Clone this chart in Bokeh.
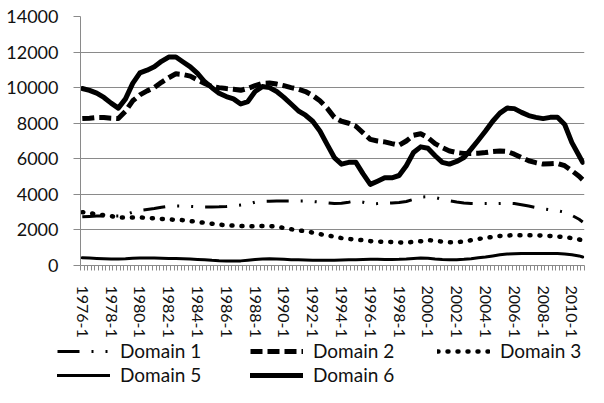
from bokeh.plotting import figure
from bokeh.models import Range1d, FixedTicker, Legend, LegendItem
from bokeh.embed import file_html
from bokeh.resources import INLINE

# ---- categories ----
years = list(range(1976, 2011))
quarters = [f"{y}-{q}" for y in years for q in (1, 2, 3, 4)]
x_labels = ["1976-1", "1978-1", "1980-1", "1982-1", "1984-1", "1986-1", "1988-1",
            "1990-1", "1992-1", "1994-1", "1996-1", "1998-1", "2000-1", "2002-1",
            "2004-1", "2006-1", "2008-1", "2010-1"]
# values read at the 1st and 3rd quarter of every year, plus the last quarter
sample_x = [f"{y}-{q}" for y in years for q in (1, 3)] + ["2010-4"]
y_ticks = [0, 2000, 4000, 6000, 8000, 10000, 12000, 14000]

names = ["Domain 1", "Domain 2", "Domain 3", "Domain 5", "Domain 6"]

d1 = [2740, 2760, 2780, 2790, 2780, 2780, 2850, 3000, 3100, 3150, 3200, 3270,
      3330, 3350, 3350, 3320, 3300, 3290, 3290, 3300, 3320, 3350, 3400, 3450,
      3560, 3600, 3610, 3620, 3620, 3620, 3620, 3620, 3600, 3560, 3520, 3480,
      3500, 3560, 3630, 3560, 3460, 3480, 3510, 3520, 3540, 3600, 3720, 3850,
      3870, 3820, 3720, 3640, 3570, 3520, 3490, 3480, 3480, 3480, 3490, 3500,
      3480, 3420, 3340, 3260, 3190, 3130, 3080, 3000, 2820, 2600, 2450]
d2 = [8260, 8280, 8320, 8320, 8280, 8260, 8670, 9260, 9590, 9820, 10000, 10300,
      10560, 10780, 10740, 10650, 10430, 10240, 10060, 10000, 9950, 9910, 9850, 9960,
      10110, 10240, 10260, 10200, 10110, 10000, 9910, 9780, 9560, 9260, 8850, 8330,
      8110, 8000, 7830, 7460, 7090, 7000, 6950, 6850, 6760, 7000, 7320, 7410,
      7190, 6850, 6630, 6440, 6350, 6300, 6300, 6310, 6350, 6410, 6440, 6410,
      6260, 6070, 5890, 5780, 5700, 5720, 5740, 5610, 5330, 5020, 4820]
d3 = [3000, 2950, 2880, 2830, 2780, 2700, 2700, 2700, 2700, 2680, 2650, 2620,
      2590, 2570, 2550, 2500, 2450, 2400, 2350, 2300, 2260, 2240, 2220, 2200,
      2200, 2220, 2220, 2180, 2110, 2040, 1980, 1920, 1850, 1760, 1700, 1620,
      1540, 1490, 1460, 1420, 1370, 1340, 1330, 1320, 1300, 1290, 1330, 1360,
      1430, 1390, 1340, 1310, 1310, 1350, 1420, 1490, 1550, 1610, 1660, 1690,
      1700, 1700, 1700, 1700, 1680, 1660, 1630, 1600, 1540, 1460, 1420]
d5 = [430, 420, 400, 380, 360, 360, 380, 410, 420, 420, 420, 410,
      400, 390, 380, 360, 340, 320, 290, 270, 260, 260, 260, 300,
      340, 370, 380, 370, 350, 330, 320, 310, 300, 300, 300, 300,
      310, 320, 330, 340, 350, 350, 340, 340, 350, 370, 400, 420,
      410, 370, 340, 330, 330, 350, 380, 430, 480, 540, 600, 640,
      660, 670, 670, 670, 670, 670, 670, 650, 600, 540, 480]
d6 = [9950, 9850, 9690, 9450, 9130, 8850, 9370, 10240, 10830, 10980, 11170, 11480,
      11720, 11720, 11440, 11170, 10800, 10330, 10000, 9690, 9500, 9370, 9080, 9220,
      9780, 10060, 10000, 9780, 9450, 9080, 8700, 8450, 8110, 7560, 6810, 6070,
      5700, 5800, 5800, 5150, 4560, 4740, 4930, 4930, 5060, 5610, 6350, 6670,
      6590, 6170, 5800, 5700, 5850, 6070, 6540, 7040, 7560, 8110, 8570, 8850,
      8820, 8610, 8430, 8330, 8260, 8330, 8330, 7930, 6910, 6170, 5800]
series = [d1, d2, d3, d5, d6]

FONT = "Lato"
GRID = "#8a8a8a"
styles = [dict(line_width=3, line_dash="22 12 2 12 2 12", line_join="round"),
          dict(line_width=5, line_dash="12 5", line_join="round"),
          dict(line_width=4.5, line_dash="1 9", line_cap="round", line_join="round"),
          dict(line_width=3, line_join="round", line_cap="round"),
          dict(line_width=5, line_join="round", line_cap="round")]

# category positions on the axis (category i is centred on i)
xi = [quarters.index(q) for q in sample_x]
label_pos = [quarters.index(l) for l in x_labels]

p = figure(width=588, height=340, output_backend="svg",
           toolbar_location=None,
           x_range=Range1d(-0.5, len(quarters) - 0.5),
           y_range=Range1d(0, 14000),
           min_border_left=80, min_border_right=4, min_border_top=16,
           min_border_bottom=72)
p.outline_line_color = None
p.background_fill_color = "white"
p.border_fill_color = "white"

# y axis
p.yaxis.ticker = FixedTicker(ticks=y_ticks)
p.yaxis.minor_tick_line_color = None
p.yaxis.major_tick_out = 7
p.yaxis.major_tick_in = 0
p.yaxis.major_tick_line_color = GRID
p.yaxis.axis_line_color = GRID
p.yaxis.major_label_standoff = 15
p.yaxis.major_label_text_font = FONT
p.yaxis.major_label_text_font_size = "18px"
p.yaxis.major_label_text_color = "#111111"
p.ygrid.ticker = FixedTicker(ticks=y_ticks)
p.ygrid.grid_line_color = GRID
p.ygrid.grid_line_width = 1
p.xgrid.grid_line_color = None

# x axis: labels every 8th category, tick marks between categories
p.xaxis.ticker = FixedTicker(ticks=label_pos,
                             minor_ticks=[i - 0.5 for i in range(len(quarters) + 1)])
p.xaxis.major_label_overrides = {i: l for i, l in zip(label_pos, x_labels)}
p.xaxis.major_label_orientation = "vertical"
p.xaxis.major_label_text_font = FONT
p.xaxis.major_label_text_font_size = "16px"
p.xaxis.major_label_text_color = "#111111"
p.xaxis.major_label_standoff = 15
p.xaxis.major_tick_out = 0
p.xaxis.major_tick_in = 0
p.xaxis.minor_tick_out = 5
p.xaxis.minor_tick_in = 0
p.xaxis.minor_tick_line_color = GRID
p.xaxis.axis_line_color = GRID

for ys, st in zip(series, styles):
    p.line(x=xi, y=ys, line_color="black", **st)

# ---- legend strip below the chart (its own root, so nothing is aligned) ----
lg = figure(width=588, height=47, output_backend="svg", toolbar_location=None,
            x_axis_type=None, y_axis_type=None,
            x_range=Range1d(0, 1), y_range=Range1d(0, 1), min_border=0)
lg.outline_line_color = None
lg.xgrid.visible = False
lg.ygrid.visible = False
# the same series, far outside this strip's ranges: only their legend keys show
keys = [lg.line(x=xi, y=ys, line_color="black", **st) for ys, st in zip(series, styles)]

locs = [(57, 25), (250, 25), (437, 25), (57, 1), (250, 1)]
for name, r, loc in zip(names, keys, locs):
    leg = Legend(items=[LegendItem(label=name, renderers=[r])], location=loc,
                 orientation="horizontal", padding=0, margin=0, spacing=0,
                 glyph_width=53, glyph_height=22, label_height=22,
                 label_standoff=10, label_text_font=FONT,
                 label_text_font_size="19px", label_text_color="#111111",
                 background_fill_alpha=0, border_line_alpha=0)
    lg.add_layout(leg)

open("out.html", "w").write(file_html([p, lg], INLINE))
